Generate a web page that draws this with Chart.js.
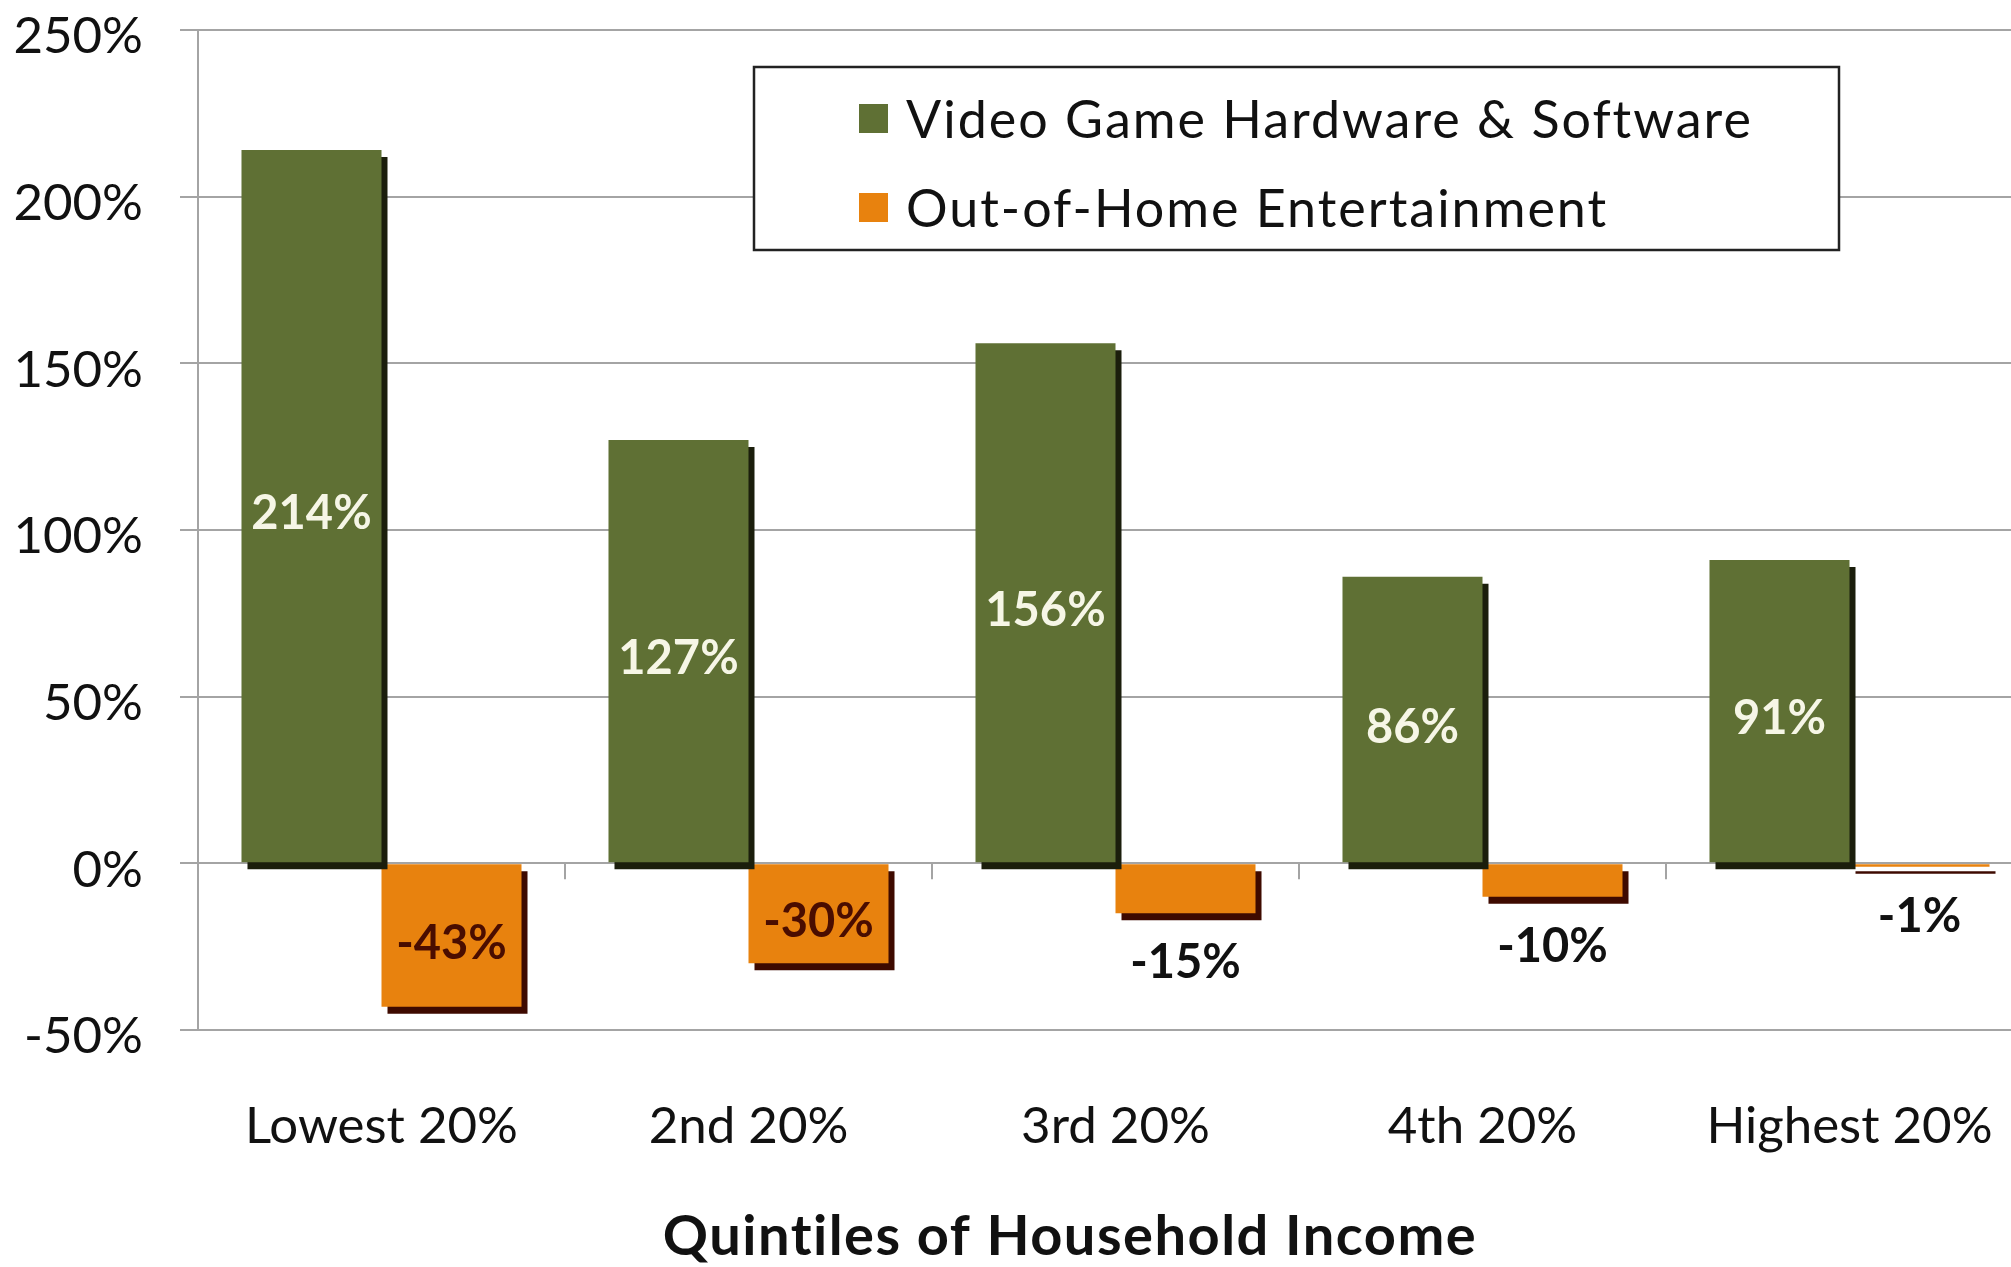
<!DOCTYPE html>
<html>
<head>
<meta charset="utf-8">
<script src="https://cdn.jsdelivr.net/npm/chart.js@4.4.1/dist/chart.umd.min.js"></script>
<style>
  html, body { margin: 0; padding: 0; background: #fff; overflow: hidden; }
  canvas { display: block; }
</style>
</head>
<body>
<canvas id="myChart" width="2033" height="1267"></canvas>
<script>
// data
const quintiles = ['Lowest 20%', '2nd 20%', '3rd 20%', '4th 20%', 'Highest 20%'];
const videoGames = [214, 127, 156, 86, 91];
const outOfHome = [-43, -30, -15, -10, -1];
const yTicks = [-50, 0, 50, 100, 150, 200, 250];

const GREEN = '#5f7034';
const ORANGE = '#e8820e';
const GRID = '#a4a4a4';
const FONT = 'Lato';

// flat drop shadow under each bar
const barShadow = {
  id: 'barShadow',
  beforeDatasetDraw(chart, args) {
    const ctx = chart.ctx;
    ctx.save();
    ctx.shadowColor = args.index === 0 ? '#1b1e0c' : '#3e0a00';
    ctx.shadowOffsetX = 6;
    ctx.shadowOffsetY = 7;
    ctx.shadowBlur = 0;
  },
  afterDatasetDraw(chart) {
    chart.ctx.restore();
  }
};

// value labels on the bars
const barLabels = {
  id: 'barLabels',
  afterDatasetsDraw(chart) {
    const ctx = chart.ctx;
    ctx.save();
    ctx.font = 'bold 47px ' + FONT;
    ctx.textAlign = 'center';
    ctx.textBaseline = 'middle';
    chart.data.datasets.forEach((ds, di) => {
      chart.getDatasetMeta(di).data.forEach((bar, i) => {
        const v = ds.data[i];
        const text = v + '%';
        const mid = (bar.y + bar.base) / 2 + 8;
        if (di === 0) {
          ctx.fillStyle = '#f6f6e6';
          ctx.fillText(text, bar.x, mid);
        } else if (Math.abs(v) >= 20) {
          ctx.fillStyle = '#4a0d00';
          ctx.fillText(text, bar.x, mid);
        } else {
          // short bars get the label underneath
          ctx.fillStyle = '#111';
          ctx.fillText(text, bar.x, bar.y + 50);
        }
      });
    });
    ctx.restore();
  }
};

// small ticks between categories on the zero line, axis title and boxed legend
const extras = {
  id: 'extras',
  afterDraw(chart) {
    const {ctx, chartArea, scales: {x, y}} = chart;
    ctx.save();
    const zero = y.getPixelForValue(0);
    ctx.strokeStyle = GRID;
    ctx.lineWidth = 2;
    for (let i = 0; i < quintiles.length - 1; i++) {
      const bx = (x.getPixelForValue(i) + x.getPixelForValue(i + 1)) / 2;
      ctx.beginPath();
      ctx.moveTo(bx, zero);
      ctx.lineTo(bx, zero + 16);
      ctx.stroke();
    }

    ctx.fillStyle = '#111';
    ctx.font = 'bold 56px ' + FONT;
    ctx.letterSpacing = '1.5px';
    ctx.textAlign = 'center';
    ctx.textBaseline = 'middle';
    ctx.fillText('Quintiles of Household Income', chartArea.left + 872, 1237);

    const lx = 754, ly = 67, lw = 1085, lh = 183;
    ctx.fillStyle = '#fff';
    ctx.fillRect(lx, ly, lw, lh);
    ctx.strokeStyle = '#222';
    ctx.lineWidth = 2.5;
    ctx.strokeRect(lx, ly, lw, lh);
    ctx.font = '52px ' + FONT;
    ctx.letterSpacing = '2px';
    ctx.textAlign = 'left';
    chart.data.datasets.forEach((ds, i) => {
      const rowY = 119 + i * 89;
      ctx.fillStyle = ds.backgroundColor;
      ctx.fillRect(859, rowY - 15, 29, 29);
      ctx.fillStyle = '#111';
      ctx.fillText(ds.label, 906, rowY + 2);
    });
    ctx.restore();
  }
};

const data = {
  labels: quintiles,
  datasets: [{
    label: 'Video Game Hardware & Software',
    data: videoGames,
    backgroundColor: GREEN,
    categoryPercentage: 0.763,
    barPercentage: 1.0
  }, {
    label: 'Out-of-Home Entertainment',
    data: outOfHome,
    backgroundColor: ORANGE,
    categoryPercentage: 0.763,
    barPercentage: 1.0
  }]
};

const config = {
  type: 'bar',
  data,
  options: {
    responsive: false,
    animation: false,
    layout: { padding: { top: 30, left: 0, right: 0, bottom: 0 } },
    plugins: {
      legend: { display: false },
      tooltip: { enabled: false }
    },
    scales: {
      x: {
        grid: { display: false, drawTicks: false },
        border: { display: false },
        ticks: { padding: 66, color: '#111', font: { family: FONT, size: 51 } },
        afterFit(scale) {
          scale.height = 237;
          scale.paddingLeft = 0;
          scale.paddingRight = 0;
        }
      },
      y: {
        min: yTicks[0],
        max: yTicks[yTicks.length - 1],
        ticks: {
          stepSize: yTicks[1] - yTicks[0],
          padding: 37,
          labelOffset: 7,
          color: '#111',
          font: { family: FONT, size: 51 },
          callback: v => v + '%'
        },
        grid: { color: GRID, lineWidth: 2, tickLength: 18, tickColor: GRID },
        border: { color: GRID, width: 2 },
        afterFit(scale) {
          scale.width = 198;
          scale.paddingTop = 0;
          scale.paddingBottom = 0;
        }
      }
    }
  },
  plugins: [barShadow, barLabels, extras]
};

const myChart = new Chart(document.getElementById('myChart'), config);
</script>
</body>
</html>
